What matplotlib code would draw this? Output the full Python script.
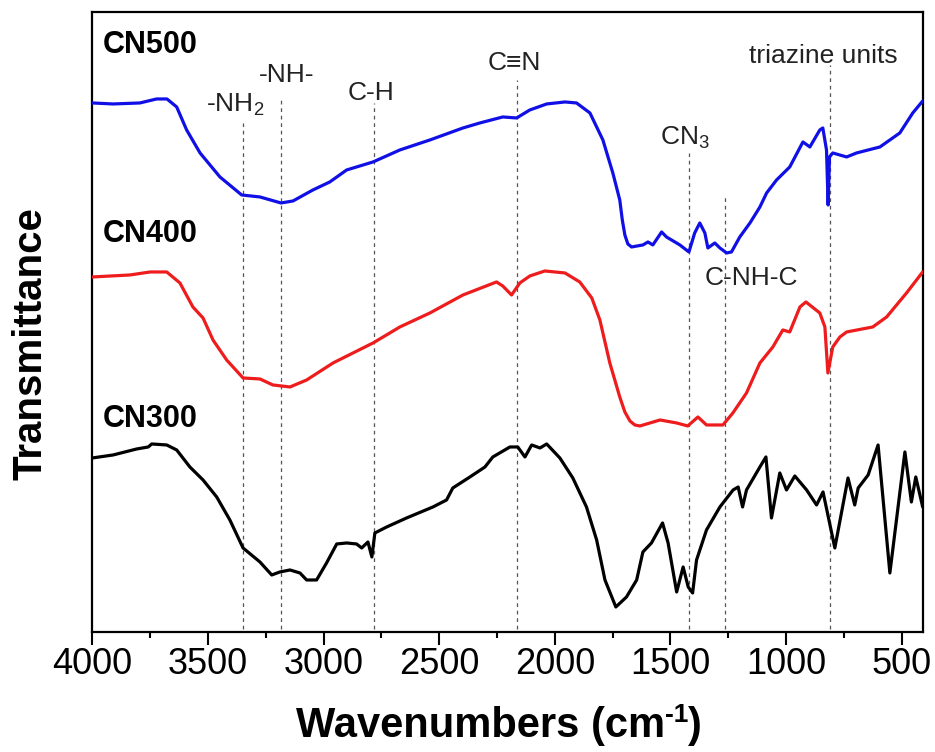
import matplotlib
matplotlib.use('Agg')
import matplotlib.pyplot as plt
from matplotlib.ticker import MultipleLocator
from matplotlib.transforms import offset_copy

plt.rcParams['font.family'] = ['Liberation Sans', 'DejaVu Sans']
plt.rcParams['mathtext.default'] = 'regular'

# CN500 (azul)
w_cn500 = [4000, 3910, 3794, 3722, 3677, 3635, 3592, 3534, 3448, 3354, 3275, 3184,
           3132, 3046, 2973, 2900, 2786, 2670, 2540, 2397, 2324, 2225, 2165, 2108,
           2035, 1956, 1906, 1848, 1792, 1749, 1719, 1708, 1697, 1684, 1668, 1619, 1597, 1576,
           1538, 1517, 1459, 1420, 1395, 1373, 1351, 1338, 1308, 1286, 1257, 1236,
           1200, 1156, 1113, 1084, 1041, 984, 927, 897, 854, 841, 825, 818, 812,
           798, 738, 695, 594, 508, 452, 409]
t_cn500 = [529, 528, 529, 533, 533, 525, 502, 479, 455, 437, 435, 429,
           431, 442, 450, 462, 470, 482, 492, 504, 509, 515, 514, 522,
           528, 530, 529, 519, 492, 459, 432, 412, 397, 388, 385, 387, 390, 387,
           400, 395, 387, 380, 399, 409, 399, 384, 389, 384, 379, 380,
           395, 409, 425, 439, 452, 465, 490, 485, 502, 504, 482, 427, 475,
           479, 475, 479, 485, 499, 519, 531]

# CN400 (vermelho)
w_cn400 = [4000, 3837, 3750, 3678, 3621, 3565, 3521, 3478, 3419, 3348, 3275, 3219,
           3145, 3073, 2959, 2786, 2670, 2540, 2397, 2252, 2225, 2187, 2151, 2108,
           2043, 1956, 1892, 1840, 1805, 1762, 1719, 1697, 1675, 1654, 1632, 1545, 1473, 1425,
           1381, 1344, 1273, 1230, 1171, 1113, 1057, 1014, 984, 940, 914, 854,
           832, 819, 798, 767, 738, 625, 565, 479, 409]
t_cn400 = [355, 357, 360, 360, 349, 325, 314, 292, 272, 254, 253, 247,
           245, 252, 269, 289, 305, 319, 337, 350, 346, 337, 349, 356,
           361, 359, 350, 334, 312, 269, 235, 220, 211, 207, 206, 212, 209, 206,
           215, 207, 207, 219, 239, 269, 285, 302, 300, 325, 330, 319,
           305, 259, 285, 295, 300, 305, 315, 339, 360]

# CN300 (preto)
w_cn300 = [4000, 3910, 3808, 3758, 3743, 3678, 3635, 3578, 3521, 3462, 3405, 3348,
           3275, 3224, 3189, 3145, 3102, 3073, 3030, 2987, 2943, 2900, 2857, 2835,
           2808, 2791, 2778, 2727, 2641, 2527, 2468, 2441, 2367, 2302, 2268, 2194,
           2160, 2129, 2100, 2064, 2035, 1978, 1922, 1863, 1819, 1783, 1736, 1690,
           1646, 1619, 1582, 1534, 1510, 1473, 1445, 1423, 1404, 1387, 1344, 1286,
           1229, 1207, 1188, 1171, 1113, 1087, 1063, 1027, 998, 962, 911, 868,
           840, 789, 732, 703, 688, 645, 602, 551, 486, 458, 439, 409]
t_cn300 = [174, 177, 183, 185, 188, 187, 182, 165, 152, 135, 112, 84,
           70, 57, 60, 62, 59, 52, 52, 69, 88, 89, 88, 84,
           90, 75, 99, 105, 114, 125, 132, 144, 155, 165, 175, 185,
           185, 175, 187, 184, 188, 174, 154, 125, 92, 52, 25, 35,
           52, 80, 89, 109, 89, 40, 65, 45, 39, 72, 102, 125,
           142, 145, 125, 142, 165, 175, 114, 159, 142, 156, 142, 127,
           140, 84, 154, 127, 144, 157, 187, 59, 180, 130, 155, 125]

# linhas de referencia: posicao, topo da linha
picos_w = [3350, 3184, 2782, 2164, 1420, 1262, 810]
picos_topo = [509, 535, 529, 552, 479, 435, 567]

# rotulos das bandas
rotulos = ['-NH$_2$', '-NH-', 'C-H', 'C\u2261N', 'CN$_3$', 'C-NH-C', 'triazine units']
rotulos_w = [3384, 3158, 2795, 2173, 1438, 1148, 837]
rotulos_t = [520, 550, 532, 562, 487, 347, 569]

amostras = ['CN500', 'CN400', 'CN300']
amostras_t = [579, 390, 205]

fig = plt.figure(figsize=(9.35, 7.52), dpi=100)
ax = fig.add_axes([0.0987, 0.1596, 0.8884, 0.8245])

for w, topo in zip(picos_w, picos_topo):
    ax.plot([w, w], [3, topo], color='#555555', lw=0.9, linestyle=(0, (3, 3)), zorder=1)

estilo = dict(lw=2.3, zorder=3, solid_joinstyle='round', solid_capstyle='round')
ax.plot(w_cn500, t_cn500, color='#1010e6', **estilo)
ax.plot(w_cn400, t_cn400, color='#ee1c1c', **estilo)
ax.plot(w_cn300, t_cn300, color='black', **estilo)

for txt, w, t in zip(rotulos, rotulos_w, rotulos_t):
    ax.text(w, t, txt, ha='center', va='baseline', fontsize=19, color='#222222')

for txt, t in zip(amostras, amostras_t):
    ax.text(3954, t, txt, ha='left', va='baseline', fontsize=22, fontweight='bold')

ax.set_xlim(4000, 408)
ax.set_ylim(0, 620)
ax.xaxis.set_major_locator(MultipleLocator(500))
ax.xaxis.set_minor_locator(MultipleLocator(250))
ax.set_yticks([])
ax.tick_params(axis='x', which='major', direction='out', length=9, width=1.5,
               labelsize=26, pad=2, top=False)
ax.tick_params(axis='x', which='minor', direction='out', length=4, width=1.5, top=False)
for s in ax.spines.values():
    s.set_linewidth(1.6)

# rotulo do eixo x montado em partes, para o "-1" sair com hifen
fig.canvas.draw()
r = fig.canvas.get_renderer()
partes = []
t1 = fig.text(0, 14.5 / 752, 'Wavenumbers (cm', ha='left', va='baseline',
              fontsize=30, fontweight='bold')
t2 = fig.text(0, 14.5 / 752, '-1', ha='left', va='baseline', fontsize=19, fontweight='bold')
t3 = fig.text(0, 14.5 / 752, ')', ha='left', va='baseline', fontsize=30, fontweight='bold')
larguras = [t.get_window_extent(r).width for t in (t1, t2, t3)]
x0 = 499 - sum(larguras) / 2
t1.set_x(x0 / 935)
t2.set_x((x0 + larguras[0]) / 935)
t2.set_y((14.5 + 15) / 752)
t3.set_x((x0 + larguras[0] + larguras[1]) / 935)

fig.text(31 / 935, (752 - 344) / 752, 'Transmittance', ha='center', va='center',
         rotation=90, fontsize=29, fontweight='bold')

fig.savefig('out.png', dpi=100)
